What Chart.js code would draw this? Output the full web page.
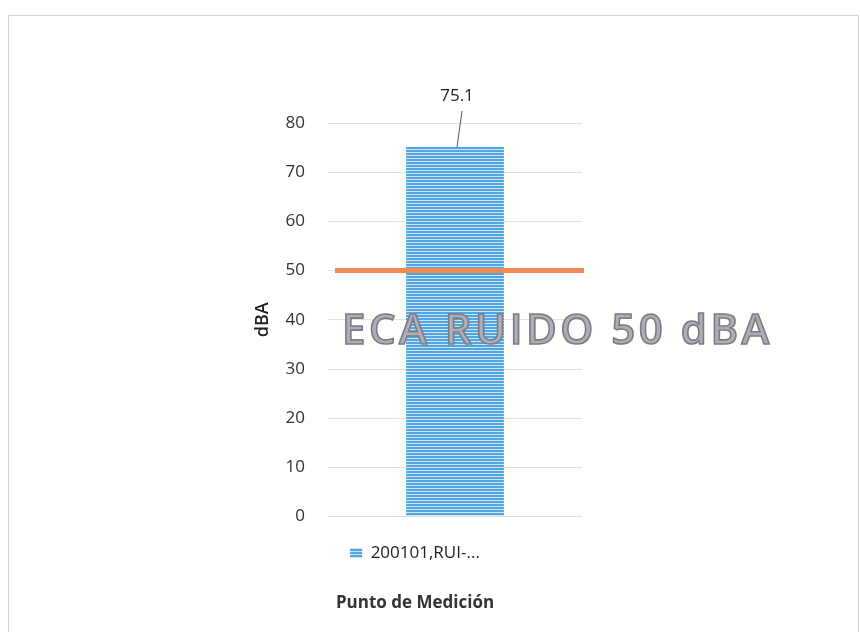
<!DOCTYPE html>
<html>
<head>
<meta charset="utf-8">
<script src="https://cdn.jsdelivr.net/npm/chart.js@4"></script>
<style>
  body { margin: 0; background: #fff; }
  #wrap { width: 860px; height: 632px; position: relative; }
</style>
</head>
<body>
<div id="wrap"><canvas id="noise-chart"></canvas></div>
<script>
// data
const puntos = ["200101,RUI-..."];
const nivelDBA = [75.1];
const limiteECA = [50];
const limiteTexto = "ECA RUIDO 50 dBA";

// striped fill like the scanned bar
const stripeFill = () => {
  const c = document.createElement("canvas");
  c.width = 4; c.height = 3;
  const g = c.getContext("2d");
  g.fillStyle = "#cfe5f6";
  g.fillRect(0, 0, 4, 3);
  g.fillStyle = "#4fa6e3";
  g.fillRect(0, 0, 4, 2);
  return g.createPattern(c, "repeat");
};

// orange ECA line, the big grey text, the data label and the frame
const extras = {
  id: "extras",
  afterDatasetsDraw(chart) {
    const ctx = chart.ctx;
    const area = chart.chartArea;
    const y = chart.scales.y;

    ctx.save();
    // frame around chart
    ctx.strokeStyle = "#d6d6d6";
    ctx.lineWidth = 1;
    ctx.strokeRect(8.5, 15.5, 850, 640);

    // limit line
    const ly = y.getPixelForValue(limiteECA[0]);
    ctx.strokeStyle = "#ef8a55";
    ctx.lineWidth = 5;
    ctx.beginPath();
    ctx.moveTo(area.left + 7, ly);
    ctx.lineTo(area.right + 2, ly);
    ctx.stroke();

    // label of the bar with leader line
    const bar = chart.getDatasetMeta(0).data[0];
    ctx.strokeStyle = "#555";
    ctx.lineWidth = 1;
    ctx.beginPath();
    ctx.moveTo(bar.x + 2, bar.y);
    ctx.lineTo(bar.x + 7, bar.y - 36);
    ctx.stroke();
    ctx.fillStyle = "#222";
    ctx.font = "17px 'Open Sans'";
    ctx.textAlign = "center";
    ctx.textBaseline = "middle";
    ctx.fillText(nivelDBA[0].toFixed(1), bar.x + 2, bar.y - 51);

    // big ECA text
    ctx.font = "600 42px 'Open Sans'";
    ctx.letterSpacing = "3.5px";
    ctx.textAlign = "left";
    ctx.textBaseline = "middle";
    ctx.fillStyle = "#aeaeb6";
    ctx.strokeStyle = "#7b7b86";
    ctx.lineWidth = 1.6;
    ctx.fillText(limiteTexto, area.left + 14, y.getPixelForValue(37.5));
    ctx.strokeText(limiteTexto, area.left + 14, y.getPixelForValue(37.5));
    ctx.restore();
  }
};

const fill = stripeFill();

new Chart(document.getElementById("noise-chart"), {
  type: "bar",
  data: {
    labels: puntos,
    datasets: [{
      label: puntos[0],
      data: nivelDBA,
      backgroundColor: fill,
      borderWidth: 0,
      categoryPercentage: 1,
      barPercentage: 0.385
    }]
  },
  options: {
    responsive: true,
    maintainAspectRatio: false,
    animation: false,
    layout: { padding: { left: 248, right: 278, top: 123, bottom: 16 } },
    scales: {
      x: {
        ticks: { display: false },
        grid: { display: false },
        border: { display: false }
      },
      y: {
        min: 0,
        max: 80,
        ticks: { stepSize: 10, color: "#333", font: { size: 17, family: "'Open Sans'" }, padding: 23 },
        grid: { color: "#e2e2e2", drawTicks: false },
        border: { display: false },
        title: { display: true, text: "dBA", color: "#222", font: { size: 18, weight: "600", family: "'Open Sans'" } },
        afterFit: (s) => { s.width = 80; }
      }
    },
    plugins: {
      legend: {
        position: "bottom",
        labels: { boxWidth: 12, boxHeight: 10, color: "#222", padding: 20, font: { size: 17, family: "'Open Sans'" } }
      },
      title: {
        display: true,
        position: "bottom",
        text: "Punto de Medición",
        color: "#333",
        font: { size: 17, weight: "bold", family: "'Open Sans'" },
        padding: { top: 21, bottom: 3 }
      },
      tooltip: { enabled: false }
    }
  },
  plugins: [extras]
});
</script>
</body>
</html>
